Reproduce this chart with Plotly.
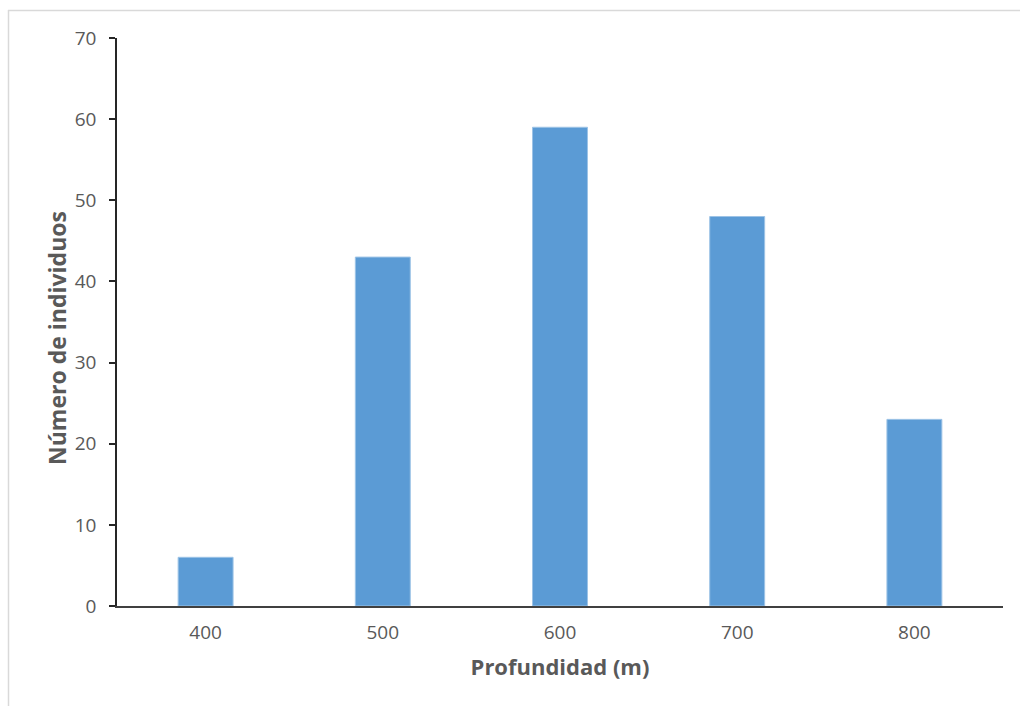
import plotly.graph_objects as go

categories = ["400", "500", "600", "700", "800"]
values = [6, 43, 59, 48, 23]
y_ticks = [0, 10, 20, 30, 40, 50, 60, 70]

W, H = 1020, 706
L, R, T, B = 117, 17, 38, 100
pw, ph = W - L - R, H - T - B

def px(x):
    return (x - L) / pw

def py(y):
    return (H - B - y) / ph

fig = go.Figure()
fig.add_trace(go.Bar(
    x=categories, y=values,
    marker=dict(color="#5B9BD5", line=dict(color="#9DC3E6", width=1)),
))

gray = "#595959"
fig.update_layout(
    width=W, height=H,
    margin=dict(l=L, r=R, t=T, b=B),
    paper_bgcolor="white", plot_bgcolor="white",
    bargap=0.69,
    showlegend=False,
    font=dict(family="Open Sans", color=gray, size=19),
    xaxis=dict(
        type="category",
        showline=True, linecolor="#404040", linewidth=2,
        ticks="", showgrid=False,
        ticklabelstandoff=8,
        tickfont=dict(family="Open Sans", size=19, color=gray),
        title=dict(text="Profundidad (m)", standoff=16,
                   font=dict(family="Open Sans", size=22, color=gray, weight="bold")),
    ),
    yaxis=dict(
        range=[0, 70], tickvals=y_ticks,
        showline=True, linecolor="#262626", linewidth=1.5,
        ticks="outside", ticklen=6, tickcolor="#262626", tickwidth=1.5,
        ticklabelstandoff=9,
        showgrid=False, zeroline=False,
        tickfont=dict(family="Open Sans", size=19, color=gray),
    ),
)

fig.add_annotation(
    text="Número de individuos", textangle=-90,
    xref="paper", yref="paper", x=px(57), y=py(338),
    xanchor="center", yanchor="middle", showarrow=False,
    font=dict(family="Open Sans", size=23, color=gray, weight="bold"),
)

# light frame of the chart area (cropped at right/bottom)
fig.add_shape(type="line", xref="paper", yref="paper",
              x0=px(8), x1=px(1020), y0=py(10.5), y1=py(10.5),
              line=dict(color="#D9D9D9", width=1.5))
fig.add_shape(type="line", xref="paper", yref="paper",
              x0=px(8.5), x1=px(8.5), y0=py(10), y1=py(706),
              line=dict(color="#D9D9D9", width=1.5))

fig.write_html("out.html")
